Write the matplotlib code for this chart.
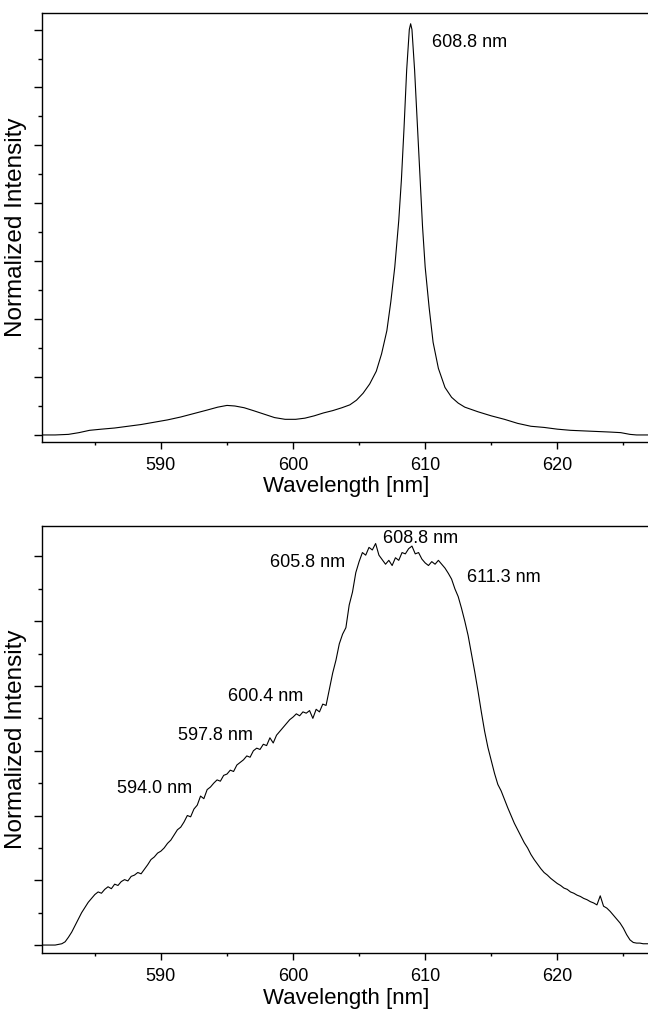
import numpy as np
import matplotlib.pyplot as plt
from matplotlib.ticker import MultipleLocator, NullFormatter

plt.rcParams['font.family'] = ['Liberation Sans', 'DejaVu Sans']

# top panel: narrow emission line
wl_top = [581.0, 582.0, 583.0, 583.8, 584.6, 585.5, 586.5, 587.5, 588.5, 589.5,
          590.5, 591.5, 592.5, 593.5, 594.3, 595.0, 595.6, 596.3, 597.0, 597.8,
          598.6, 599.4, 600.2, 600.9, 601.6, 602.3, 603.0, 603.7, 604.3, 604.8,
          605.3, 605.8, 606.3, 606.7, 607.1, 607.4, 607.7, 608.0, 608.2, 608.4,
          608.6, 608.8, 608.9, 609.0, 609.2, 609.4, 609.6, 609.8, 610.0, 610.3,
          610.6, 611.0, 611.5, 612.0, 612.5, 613.0, 614.0, 615.0, 616.0, 617.0,
          618.0, 619.0, 620.0, 621.0, 622.0, 623.0, 624.0, 624.8, 625.5, 626.0,
          627.0]
int_top = [0.00, 0.00, 0.01, 0.04, 0.08, 0.10, 0.12, 0.15, 0.18, 0.22,
           0.26, 0.31, 0.37, 0.43, 0.48, 0.51, 0.50, 0.47, 0.42, 0.36,
           0.30, 0.27, 0.27, 0.29, 0.33, 0.38, 0.42, 0.47, 0.52, 0.60,
           0.72, 0.88, 1.10, 1.40, 1.80, 2.30, 2.90, 3.70, 4.40, 5.30,
           6.30, 7.00, 7.10, 7.00, 6.30, 5.40, 4.50, 3.60, 2.90, 2.20,
           1.60, 1.15, 0.82, 0.65, 0.55, 0.48, 0.40, 0.33, 0.27, 0.20,
           0.15, 0.13, 0.10, 0.08, 0.07, 0.06, 0.05, 0.04, 0.01, 0.00,
           0.00]

# bottom panel: broad band, sampled every 0.25 nm
wl_bot = np.arange(581.0, 627.01, 0.25)
int_bot = [0.00, 0.00, 0.00, 0.00,
           0.00, 0.01, 0.02, 0.05,
           0.12, 0.20, 0.30, 0.40,
           0.50, 0.58, 0.66, 0.72,
           0.78, 0.82, 0.80, 0.86,
           0.90, 0.87, 0.94, 0.92,
           0.98, 1.01, 0.99, 1.06,
           1.08, 1.12, 1.10, 1.17,
           1.24, 1.32, 1.36, 1.42,
           1.45, 1.50, 1.57, 1.62,
           1.70, 1.78, 1.82, 1.90,
           2.00, 1.98, 2.10, 2.16,
           2.30, 2.26, 2.40, 2.44,
           2.50, 2.55, 2.53, 2.62,
           2.64, 2.70, 2.68, 2.78,
           2.82, 2.86, 2.92, 2.90,
           3.00, 3.04, 3.02, 3.10,
           3.08, 3.20, 3.12, 3.24,
           3.30, 3.36, 3.42, 3.48,
           3.52, 3.57, 3.54, 3.60,
           3.58, 3.62, 3.50, 3.64,
           3.60, 3.72, 3.70, 3.95,
           4.20, 4.40, 4.65, 4.80,
           4.90, 5.25, 5.45, 5.75,
           5.92, 6.06, 6.02, 6.14,
           6.10, 6.20, 6.02, 5.95,
           5.88, 5.94, 5.86, 5.98,
           5.94, 6.06, 6.04, 6.12,
           6.16, 6.04, 6.06, 5.96,
           5.90, 5.86, 5.92, 5.88,
           5.94, 5.88, 5.82, 5.74,
           5.65, 5.50, 5.38, 5.20,
           5.00, 4.78, 4.50, 4.22,
           3.92, 3.60, 3.30, 3.05,
           2.85, 2.65, 2.48, 2.38,
           2.25, 2.12, 2.00, 1.88,
           1.78, 1.68, 1.58, 1.50,
           1.40, 1.32, 1.25, 1.18,
           1.12, 1.08, 1.03, 0.99,
           0.95, 0.92, 0.88, 0.86,
           0.82, 0.80, 0.77, 0.75,
           0.72, 0.70, 0.67, 0.65,
           0.62, 0.76, 0.60, 0.57,
           0.52, 0.46, 0.40, 0.34,
           0.26, 0.16, 0.08, 0.04,
           0.03, 0.03, 0.02, 0.02,
           0.02]

labels_top = ['608.8 nm']
label_pos_top = [(610.5, 6.77)]
labels_bot = ['608.8 nm', '605.8 nm', '611.3 nm', '600.4 nm', '597.8 nm', '594.0 nm']
label_pos_bot = [(606.8, 6.27), (598.25, 5.91), (613.2, 5.68),
                 (595.1, 3.83), (591.3, 3.23), (586.7, 2.42)]

fig = plt.figure(figsize=(6.48, 10.10), dpi=100)
ax1 = fig.add_axes([0.0648, 0.5627, 0.94, 0.4241])
ax2 = fig.add_axes([0.0648, 0.0561, 0.94, 0.4231])


def style(ax, ylim):
    ax.set_xlim(581.0, 627.1)
    ax.set_ylim(*ylim)
    ax.xaxis.set_major_locator(MultipleLocator(10))
    ax.xaxis.set_minor_locator(MultipleLocator(5))
    ax.yaxis.set_major_locator(MultipleLocator(1))
    ax.yaxis.set_minor_locator(MultipleLocator(0.5))
    ax.yaxis.set_major_formatter(NullFormatter())
    for s in ax.spines.values():
        s.set_linewidth(1.0)
    ax.spines['right'].set_visible(False)
    ax.tick_params(axis='x', which='major', direction='out', length=4.8, width=1.0,
                   labelsize=13, pad=6)
    ax.tick_params(axis='x', which='minor', direction='out', length=2.5, width=1.0)
    ax.tick_params(axis='y', which='major', direction='out', length=5.5, width=1.0)
    ax.tick_params(axis='y', which='minor', direction='out', length=2.7, width=1.0)
    ax.set_xlabel('Wavelength [nm]', fontsize=16, labelpad=2)
    ax.set_ylabel('Normalized Intensity', fontsize=17.5, labelpad=1.5)


ax1.plot(wl_top, int_top, color='black', lw=0.8)
style(ax1, (-0.116, 7.28))
for t, (x, y) in zip(labels_top, label_pos_top):
    ax1.text(x, y, t, fontsize=13, ha='left', va='center')

ax2.plot(wl_bot, int_bot, color='black', lw=0.8)
style(ax2, (-0.128, 6.47))
for t, (x, y) in zip(labels_bot, label_pos_bot):
    ax2.text(x, y, t, fontsize=13, ha='left', va='center')

fig.savefig('out.png', dpi=100)
